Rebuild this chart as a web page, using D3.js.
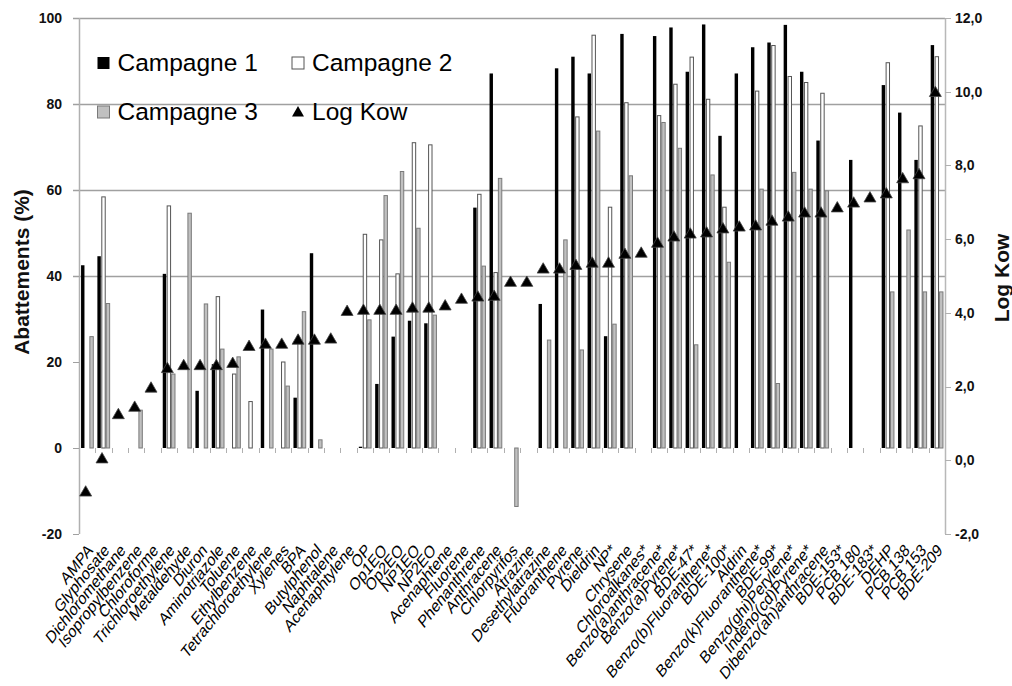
<!DOCTYPE html>
<html>
<head>
<meta charset="utf-8">
<script src="https://cdn.jsdelivr.net/npm/d3@7"></script>
<style>
  body { margin: 0; background: #fff; }
  text { font-family: 'Liberation Sans', Arial, sans-serif; }
</style>
</head>
<body>
<script>
// polluants, tries par Log Kow
const categories = ['AMPA', 'Glyphosate', 'Dichloromethane', 'Isopropylbenzene', 'Chloroforme',
  'Trichloroethylene', 'Metaldehyde', 'Diuron', 'Aminotriazole', 'Toluene', 'Ethylbenzene',
  'Tetrachloroethylene', 'Xylenes', 'BPA', 'Butylphenol', 'Naphtalene', 'Acenaphtylene', 'OP',
  'Op1EO', 'Op2EO', 'NP1EO', 'NP2EO', 'Acenaphtene', 'Fluorene', 'Phenanthrene', 'Anthracene',
  'Chlorpyrifos', 'Atrazine', 'Desethylatrazine', 'Fluoranthene', 'Pyrene', 'Dieldrin', 'NP*',
  'Chrysene', 'Chloroalkanes*', 'Benzo(a)anthracene*', 'Benzo(a)Pyrene*', 'BDE-47*',
  'Benzo(b)Fluoranthene*', 'BDE-100*', 'Aldrin', 'Benzo(k)Fluoranthene*', 'BDE-99*',
  'Benzo(ghi)Perylene*', 'Indeno(cd)Pyrene*', 'Dibenzo(ah)anthracene', 'BDE-153*', 'PCB 180',
  'BDE-183*', 'DEHP', 'PCB 138', 'PCB 153', 'BDE-209'];

const campagne1 = [42.5, 44.6, 0, 0, 0, 40.5, 0, 13.3, 19.5, 0, 0, 32.2, 0, 11.7, 45.3, 0, 0, 0.3,
  14.9, 25.9, 29.6, 29, 0, 0, 55.9, 87.1, 0, 0, 33.5, 88.3, 91, 87.1, 26, 96.3, 0, 95.8, 97.8, 87.5,
  98.5, 72.6, 87.1, 93.2, 94.3, 98.4, 87.5, 71.5, 0, 67, 0, 84.4, 78, 67, 93.7];
const campagne2 = [0, 58.4, 0, 0, 0, 56.3, 0, 0, 35.2, 17.2, 10.8, 0, 20, 24.3, 0, 0, 0, 49.7,
  48.4, 40.5, 71, 70.5, 0, 0, 59, 40.8, 0, 0, 0, 0, 77, 96, 56, 80.3, 0, 77.3, 84.6, 90.9,
  81.1, 56, 0, 83, 93.6, 86.4, 85, 82.5, 0, 0, 0, 89.6, 0, 74.9, 91];
const campagne3 = [25.9, 33.6, 0, 8.8, 0, 17.2, 54.6, 33.5, 23, 21.2, 0, 23, 14.4, 31.7, 1.9, 0, 0,
  29.8, 58.7, 64.3, 51.1, 30.9, 0, 0, 42.3, 62.7, -13.6, 0, 25.1, 48.4, 22.8, 73.7, 28.8, 63.3, 0,
  75.7, 69.7, 24, 63.5, 43.2, 0, 60.2, 15, 64.1, 60.2, 59.8, 0, 0, 0, 36.3, 50.7, 36.3, 36.3];
const logKow = [-0.85, 0.05, 1.25, 1.45, 1.97, 2.5, 2.58, 2.58, 2.58, 2.64, 3.1, 3.16, 3.16, 3.27,
  3.27, 3.3, 4.05, 4.08, 4.08, 4.08, 4.14, 4.14, 4.2, 4.38, 4.44, 4.46, 4.84, 4.84, 5.2, 5.2, 5.3,
  5.36, 5.36, 5.6, 5.63, 5.9, 6.07, 6.15, 6.18, 6.29, 6.34, 6.37, 6.5, 6.61, 6.72, 6.72, 6.86,
  6.99, 7.13, 7.24, 7.65, 7.76, 9.99];

const leftTicks = [-20, 0, 20, 40, 60, 80, 100];
const rightTicks = [-2, 0, 2, 4, 6, 8, 10, 12];
const gridValues = [40, 60, 80, 100];
const seriesNames = ['Campagne 1', 'Campagne 2', 'Campagne 3', 'Log Kow'];

let width = 1012, height = 686;
let svg = d3.select('body').append('svg')
  .attr('width', width)
  .attr('height', height);

let x = d3.scaleBand().domain(categories).range([79, 945]);
let xs = d3.scaleBand().domain([0, 1, 2]).range([0, x.bandwidth()]).paddingOuter(0.35);
let yL = d3.scaleLinear().domain([-20, 100]).range([534, 18]);
let yR = d3.scaleLinear().domain([-2, 12]).range([534, 18]);

// grid
svg.append('g').selectAll('line').data(gridValues).enter().append('line')
  .attr('x1', 73).attr('x2', 945)
  .attr('y1', d => Math.round(yL(d)) + 0.5).attr('y2', d => Math.round(yL(d)) + 0.5)
  .attr('stroke', '#a0a0a0').attr('stroke-width', 1.5);

// axes lines
svg.append('line').attr('x1', 79.5).attr('x2', 79.5).attr('y1', 18).attr('y2', 534)
  .attr('stroke', '#b0b0b0').attr('stroke-width', 1.5);
svg.append('line').attr('x1', 945.5).attr('x2', 945.5).attr('y1', 18).attr('y2', 534)
  .attr('stroke', '#b8b8b8').attr('stroke-width', 1.5);

svg.append('g').selectAll('line').data(leftTicks).enter().append('line')
  .attr('x1', 73).attr('x2', 79)
  .attr('y1', d => Math.round(yL(d)) + 0.5).attr('y2', d => Math.round(yL(d)) + 0.5)
  .attr('stroke', '#a0a0a0');
svg.append('g').selectAll('line').data(rightTicks).enter().append('line')
  .attr('x1', 945).attr('x2', 951)
  .attr('y1', d => Math.round(yR(d)) + 0.5).attr('y2', d => Math.round(yR(d)) + 0.5)
  .attr('stroke', '#b0b0b0');

// category ticks under zero line
svg.append('g').selectAll('line').data(categories.slice(1)).enter().append('line')
  .attr('x1', d => Math.round(x(d)) + 0.5).attr('x2', d => Math.round(x(d)) + 0.5)
  .attr('y1', yL(0)).attr('y2', yL(0) + 5)
  .attr('stroke', '#b0b0b0');

// bars
let styles = [
  { fill: '#000', stroke: 'none' },
  { fill: '#fff', stroke: '#555' },
  { fill: '#c0c0c0', stroke: '#7a7a7a' }
];
[campagne1, campagne2, campagne3].forEach((vals, s) => {
  svg.append('g').selectAll('rect')
    .data(vals.map((v, i) => ({ cat: categories[i], v: v })).filter(d => d.v !== 0))
    .enter().append('rect')
    .attr('x', d => x(d.cat) + xs(s) + 0.5)
    .attr('width', xs.bandwidth() - 1)
    .attr('y', d => Math.min(yL(0), yL(d.v)))
    .attr('height', d => Math.abs(yL(d.v) - yL(0)))
    .attr('fill', styles[s].fill)
    .attr('stroke', styles[s].stroke)
    .attr('stroke-width', 1);
});

// Log Kow markers
let tri = d3.symbol().type(d3.symbolTriangle).size(62);
svg.append('g').selectAll('path').data(logKow).enter().append('path')
  .attr('d', tri)
  .attr('transform', (d, i) => 'translate(' + (x(categories[i]) + x.bandwidth() / 2 - 1.5) + ',' + (yR(d) + 1) + ')')
  .attr('fill', '#000')
  .attr('stroke', '#444')
  .attr('stroke-width', 0.8);

// tick labels
svg.append('g').selectAll('text').data(leftTicks).enter().append('text')
  .attr('x', 62).attr('y', d => yL(d)).attr('dy', '0.35em')
  .attr('text-anchor', 'end')
  .style('font-size', '14px').style('font-weight', 'bold').attr('fill', '#111')
  .text(d => d);
svg.append('g').selectAll('text').data(rightTicks).enter().append('text')
  .attr('x', 955).attr('y', d => yR(d)).attr('dy', '0.35em')
  .style('font-size', '14px').style('font-weight', 'bold').attr('fill', '#111')
  .text(d => d.toFixed(1).replace('.', ','));

// category labels (slanted, stretched vertically like the original)
svg.append('g').selectAll('text').data(categories).enter().append('text')
  .attr('transform', d => 'translate(' + (x(d) + x.bandwidth() / 2 + 3) + ',547) scale(1,1.25) rotate(-45)')
  .attr('dy', '0.35em')
  .attr('text-anchor', 'end')
  .style('font-size', '14px').attr('fill', '#000')
  .text(d => d);

// axis titles
svg.append('text')
  .attr('transform', 'translate(29,272) rotate(-90)')
  .attr('text-anchor', 'middle')
  .style('font-size', '21px').style('font-weight', 'bold').attr('fill', '#111')
  .text('Abattements (%)');
svg.append('text')
  .attr('transform', 'translate(1009,278) rotate(-90)')
  .attr('text-anchor', 'middle')
  .style('font-size', '21px').style('font-weight', 'bold').attr('fill', '#111')
  .text('Log Kow');

// legend
let legendPos = [[97.5, 57], [292, 57], [97.5, 106], [292, 106]];
let legend = svg.append('g').selectAll('g').data(seriesNames).enter().append('g')
  .attr('transform', (d, i) => 'translate(' + legendPos[i][0] + ',' + legendPos[i][1] + ')');
legend.filter((d, i) => i < 3).append('rect')
  .attr('width', 12).attr('height', 12)
  .attr('fill', (d, i) => styles[i].fill)
  .attr('stroke', (d, i) => styles[i].stroke);
legend.filter((d, i) => i === 3).append('path')
  .attr('d', tri)
  .attr('transform', 'translate(6,7)')
  .attr('fill', '#000');
legend.append('text')
  .attr('x', 20).attr('y', 13.5)
  .style('font-size', '24.5px').attr('fill', '#000')
  .text(d => d);
</script>
</body>
</html>
